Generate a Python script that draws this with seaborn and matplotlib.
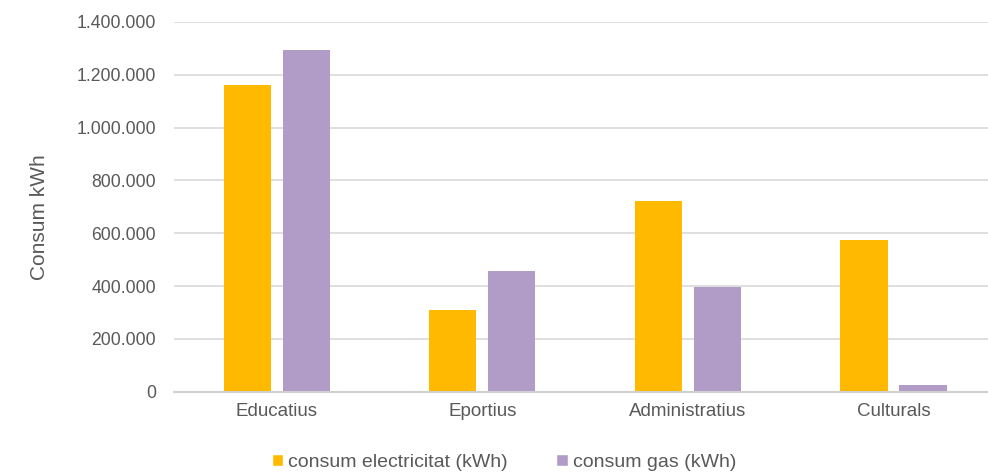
import matplotlib
matplotlib.use("Agg")
import matplotlib.pyplot as plt
import matplotlib.ticker as mticker
from matplotlib.patches import Patch
import seaborn as sns
import pandas as pd

categories = ["Educatius", "Eportius", "Administratius", "Culturals"]
series_names = ["consum electricitat (kWh)", "consum gas (kWh)"]
electricitat = [1160000, 309000, 723000, 574000]
gas = [1293000, 458000, 397000, 26000]
y_ticks = [0, 200000, 400000, 600000, 800000, 1000000, 1200000, 1400000]
colors = ["#FFBA00", "#B09CC6"]

rows = []
for c, e, g in zip(categories, electricitat, gas):
    rows.append({"cat": c, "serie": series_names[0], "val": e})
    rows.append({"cat": c, "serie": series_names[1], "val": g})
df = pd.DataFrame(rows)

sns.set_style("white")
plt.rcParams["font.family"] = ["Liberation Sans", "DejaVu Sans"]
text_color = "#595959"

fig = plt.figure(figsize=(9.88, 4.73), dpi=100)
ax = fig.add_axes([174/988, 0.172, 1 - 174/988, 0.9535 - 0.172])

sns.barplot(data=df, x="cat", y="val", hue="serie", order=categories,
            hue_order=series_names, palette=colors, width=0.574, gap=0.2,
            saturation=1, linewidth=0, ax=ax, legend=False)

ax.set_ylim(0, 1400000)
ax.set_xlim(-0.5, 3.46)
ax.set_yticks(y_ticks)
ax.yaxis.set_major_formatter(mticker.FuncFormatter(lambda v, p: f"{int(v):,}".replace(",", ".")))
ax.grid(axis="y", color="#D9D9D9", linewidth=1.2)
ax.set_axisbelow(True)
for s in ["top", "right", "left"]:
    ax.spines[s].set_visible(False)
ax.spines["bottom"].set_color("#D0D0D0")
ax.spines["bottom"].set_linewidth(1.5)
ax.tick_params(axis="both", length=0, colors=text_color)
ax.tick_params(axis="x", labelsize=13.5, pad=8)
ax.tick_params(axis="y", labelsize=12.7, pad=13)
ax.set_xlabel("")
ax.set_ylabel("Consum kWh", fontsize=15, color=text_color)
ax.yaxis.set_label_coords(-(174 - 49) / (988 - 174), (391.7 - 217) / (391.7 - 22))

handles = [Patch(facecolor=colors[0]), Patch(facecolor=colors[1])]
fig.legend(handles, series_names, loc="center", bbox_to_anchor=(0.51, 0.022),
           ncol=2, frameon=False, fontsize=14, labelcolor=text_color,
           handlelength=0.6, handleheight=0.6, handletextpad=0.25, columnspacing=2.5)

fig.savefig("out.png", dpi=100)
